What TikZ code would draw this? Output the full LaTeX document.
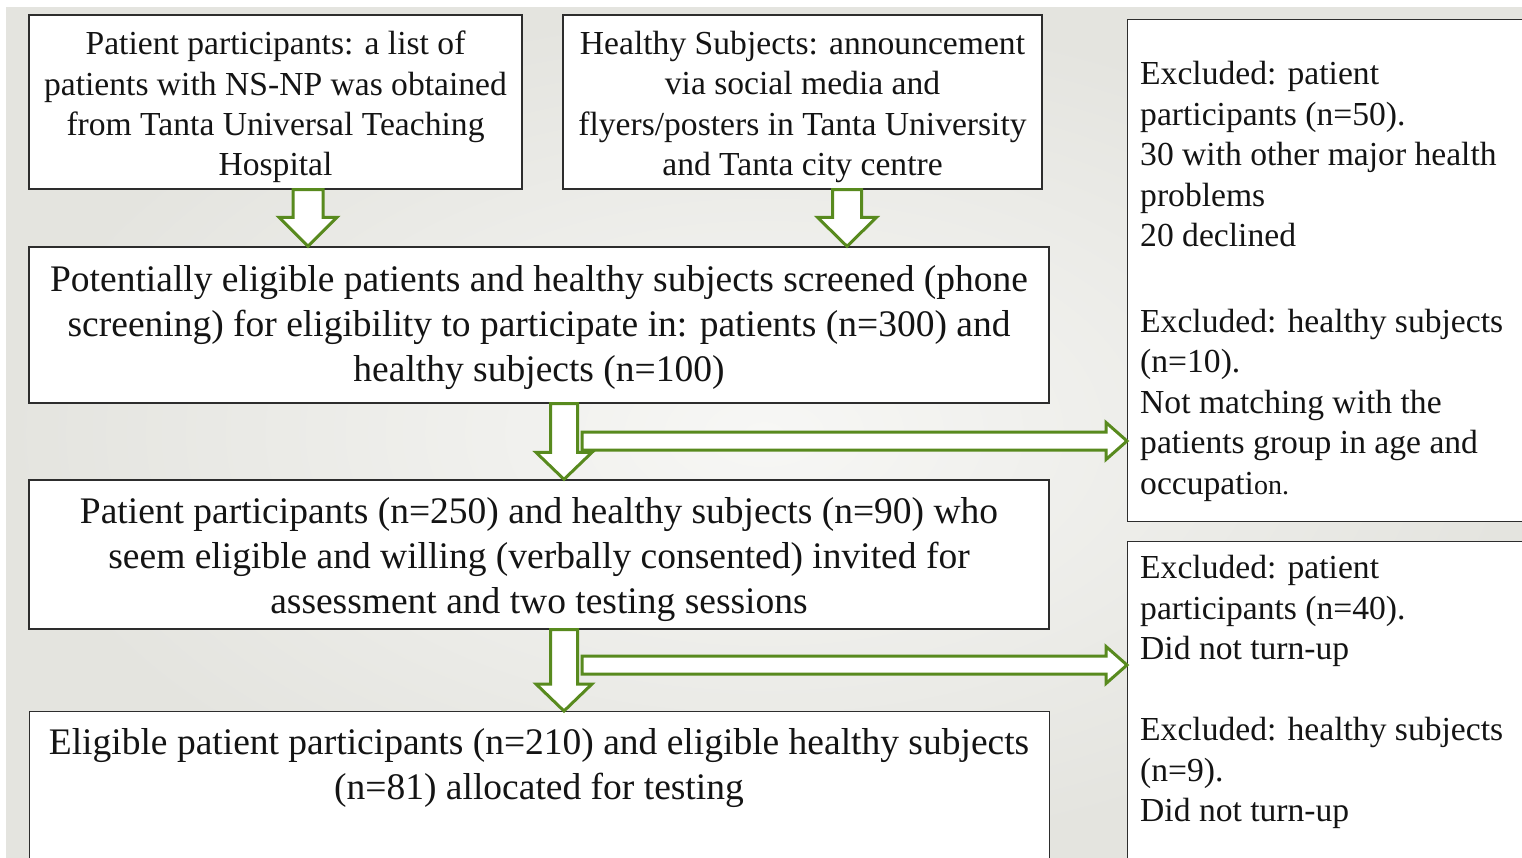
\documentclass[tikz,border=0pt]{standalone}
\usepackage{fontspec}
\setmainfont{Liberation Serif}
\usetikzlibrary{calc}

\definecolor{bgout}{RGB}{228,228,223}
\definecolor{bgin}{RGB}{247,247,245}
\definecolor{frame}{RGB}{45,45,45}
\definecolor{arrowgreen}{RGB}{88,138,30}
\definecolor{ink}{RGB}{20,20,20}

\tikzset{
  box/.style={draw=frame, line width=1.3pt, fill=white, inner sep=0pt},
  plain/.style={inner sep=0pt, text=ink},
  bigtext/.style={font=\fontsize{37.5}{45}\selectfont},
  smalltext/.style={font=\fontsize{33.6}{40.5}\selectfont},
  blockarr/.style={draw=arrowgreen, line width=3pt, fill=white, line join=miter},
}

% hollow block arrow pointing down: #1 top, #2 tip, #3 shaft half width, #4 head half width, #5 head length
\newcommand{\flowdown}[5]{%
  \draw[blockarr] let \p1=(#1), \p2=(#2) in
    (\x1-#3,\y1) -- (\x1+#3,\y1) -- (\x1+#3,\y2+#5) -- (\x1+#4,\y2+#5)
    -- (\x1,\y2) -- (\x1-#4,\y2+#5) -- (\x1-#3,\y2+#5) -- cycle;}

% hollow block arrow pointing right: #1 tail, #2 tip, #3 shaft half height, #4 head half height, #5 head length
\newcommand{\flowright}[5]{%
  \draw[blockarr] let \p1=(#1), \p2=(#2) in
    (\x1,\y1+#3) -- (\x2-#5,\y1+#3) -- (\x2-#5,\y1+#4) -- (\x2,\y1)
    -- (\x2-#5,\y1-#4) -- (\x2-#5,\y1-#3) -- (\x1,\y1-#3) -- cycle;}

\begin{document}
\begin{tikzpicture}[x=1pt,y=-1pt]
\useasboundingbox (0,0) rectangle (1522,858);
\clip (0,0) rectangle (1522,858);

% backdrop
\fill[white] (0,0) rectangle (1522,858);
\shade[inner color=bgin, outer color=bgout] (6,8) rectangle (1522,858);

% frames
\node[box, minimum width=493pt, minimum height=174pt] (a) at (275.5,102) {};
\node[box, minimum width=479pt, minimum height=174pt] (b) at (802.5,102) {};
\node[box, minimum width=1020pt, minimum height=156pt] (c) at (539,325) {};
\node[box, minimum width=1020pt, minimum height=149pt] (d) at (539,554.5) {};
\node[box, minimum width=1020pt, minimum height=200pt, anchor=north west] (e) at (29,711) {};
\node[box, minimum width=440pt, minimum height=502pt, anchor=north west] (r1) at (1127,19) {};
\node[box, minimum width=440pt, minimum height=360pt, anchor=north west] (r2) at (1127,541) {};

% sources
\node[plain, smalltext, align=center] (atext) at (275.5,107)
  {Patient participants: a list of\\patients with NS-NP was obtained\\from Tanta Universal Teaching\\Hospital};
\node[plain, smalltext, align=center] (btext) at (802.5,107)
  {Healthy Subjects: announcement\\via social media and\\flyers/posters in Tanta University\\and Tanta city centre};

% main flow
\node[plain, bigtext, align=center] (ctext) at (539,327.5)
  {Potentially eligible patients and healthy subjects screened (phone\\screening) for eligibility to participate in: patients (n=300) and\\healthy subjects (n=100)};
\node[plain, bigtext, align=center] (dtext) at (539,559.5)
  {Patient participants (n=250) and healthy subjects (n=90) who\\seem eligible and willing (verbally consented) invited for\\assessment and two testing sessions};
\node[plain, bigtext, align=center] (etext) at (539,768)
  {Eligible patient participants (n=210) and eligible healthy subjects\\(n=81) allocated for testing};

% exclusions
\node[plain, smalltext, align=left, anchor=north west] (r1text) at (1140,61)
  {Excluded: patient\\participants (n=50).\\30 with other major health\\problems\\20 declined\\[45pt]Excluded: healthy subjects\\(n=10).\\Not matching with the\\patients group in age and\\occupati{\fontsize{28}{40.5}\selectfont on.}};
\node[plain, smalltext, align=left, anchor=north west] (r2text) at (1140,555)
  {Excluded: patient\\participants (n=40).\\Did not turn-up\\[40.5pt]Excluded: healthy subjects\\(n=9).\\Did not turn-up};

% arrow tracks
\coordinate (ax) at (308,0);
\coordinate (bx) at (847,0);
\coordinate (mx) at (564,0);
\coordinate (h1) at (582,441);
\coordinate (h2) at (582,665);

\flowdown{ax |- a.south}{ax |- c.north}{15pt}{29pt}{29pt}
\flowdown{bx |- b.south}{bx |- c.north}{14.5pt}{29.5pt}{29pt}
\flowdown{mx |- c.south}{mx |- d.north}{13.5pt}{28pt}{27pt}
\flowright{h1}{r1.west}{9pt}{18.5pt}{21pt}
\flowdown{mx |- d.south}{mx |- e.north}{13.5pt}{28pt}{27pt}
\flowright{h2}{r2.west}{9pt}{18.5pt}{21pt}
\end{tikzpicture}
\end{document}
